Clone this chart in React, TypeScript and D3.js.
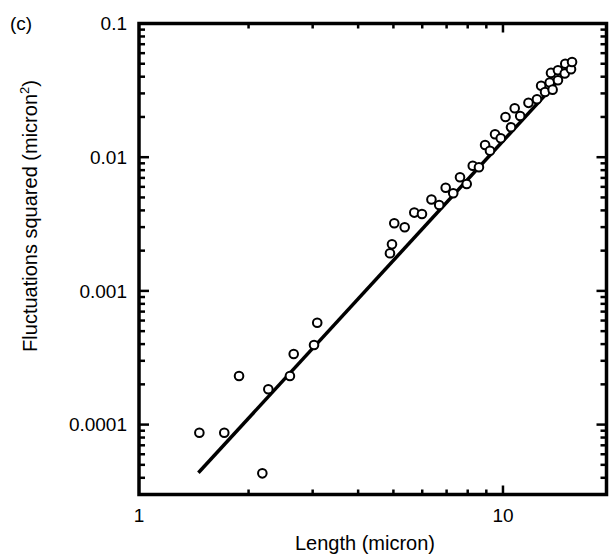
import React from 'react';
import * as d3 from 'd3';

// Data
const lengths = [1.465, 1.715, 1.883, 2.182, 2.266, 2.598, 2.661, 3.026, 3.088, 4.892, 4.955, 5.027, 5.37, 5.706, 5.99, 6.36, 6.68, 6.96, 7.3, 7.62, 7.95, 8.26, 8.59, 8.93, 9.21, 9.51, 9.86, 10.16, 10.52, 10.77, 11.15, 11.75, 12.4, 12.73, 13.05, 13.44, 13.55, 13.69, 14.16, 14.16, 14.78, 14.83, 15.38, 15.48];
const fluctuations = [8.7e-5, 8.7e-5, 2.31e-4, 4.32e-5, 1.84e-4, 2.31e-4, 3.37e-4, 3.94e-4, 5.78e-4, 1.91e-3, 2.23e-3, 3.21e-3, 2.99e-3, 3.85e-3, 3.76e-3, 4.83e-3, 4.39e-3, 5.91e-3, 5.37e-3, 7.08e-3, 6.31e-3, 8.64e-3, 8.41e-3, 0.01234, 0.01118, 0.01483, 0.01384, 0.02, 0.01674, 0.02323, 0.02033, 0.0255, 0.02715, 0.0342, 0.03074, 0.0362, 0.0427, 0.032, 0.0376, 0.0447, 0.0423, 0.05003, 0.04544, 0.0515];
const fitLength = [1.456, 14.35];
const fitValue = [4.36e-5, 0.0385];
const xTickValues = [1, 10];
const xTickLabels = ['1', '10'];
const yTickValues = [0.1, 0.01, 0.001, 0.0001];
const yTickLabels = ['0.1', '0.01', '0.001', '0.0001'];
const xDomain = [1, 19.25];
const yDomain = [3e-5, 0.1];

const W = 609;
const H = 556;
const left = 139;
const right = 606.5;
const top = 23.5;
const bottom = 494.5;
const FONT = '"Liberation Sans", Arial, Helvetica, sans-serif';

export default function App() {
  const x = d3.scaleLog().domain(xDomain).range([left, right]);
  const y = d3.scaleLog().domain(yDomain).range([bottom, top]);
  const isMajor = (v: number) => Math.abs(Math.log10(v) - Math.round(Math.log10(v))) < 1e-6;
  const xt = x.ticks().filter((v) => x(v) > left + 1 && x(v) < right - 1);
  const yt = y.ticks().filter((v) => y(v) < bottom - 1 && y(v) > top + 1);
  const line = d3
    .line<number>()
    .x((_, i) => x(fitLength[i]))
    .y((d) => y(d));

  return (
    <svg width={W} height={H} style={{ position: 'absolute', left: 0, top: 0, background: '#fff' }}>
      <rect x={0} y={0} width={W} height={H} fill="#fff" />
      {/* ticks */}
      {xt.map((v, i) => {
        const len = isMajor(v) ? 9 : 5;
        return (
          <g key={'xt' + i}>
            <line x1={x(v)} x2={x(v)} y1={bottom} y2={bottom - len} stroke="#000" strokeWidth={2.5} />
            <line x1={x(v)} x2={x(v)} y1={top} y2={top + len} stroke="#000" strokeWidth={2.5} />
          </g>
        );
      })}
      {yt.map((v, i) => {
        const len = isMajor(v) ? 10 : 6;
        return (
          <g key={'yt' + i}>
            <line x1={left} x2={left + len} y1={y(v)} y2={y(v)} stroke="#000" strokeWidth={2.5} />
            <line x1={right} x2={right - len} y1={y(v)} y2={y(v)} stroke="#000" strokeWidth={2.5} />
          </g>
        );
      })}
      {/* frame */}
      <rect x={left} y={top} width={right - left} height={bottom - top} fill="none" stroke="#000" strokeWidth={3.5} />
      {/* tick labels */}
      {xTickValues.map((v, i) => (
        <text key={'xl' + i} x={x(v)} y={522} textAnchor="middle" fontFamily={FONT} fontSize={19}>
          {xTickLabels[i]}
        </text>
      ))}
      {yTickValues.map((v, i) => (
        <text key={'yl' + i} x={127} y={y(v)} dy="0.35em" textAnchor="end" fontFamily={FONT} fontSize={19}>
          {yTickLabels[i]}
        </text>
      ))}
      {/* fit line */}
      <path d={line(fitValue) || ''} fill="none" stroke="#000" strokeWidth={3.5} />
      {/* points */}
      {lengths.map((l, i) => (
        <circle key={'p' + i} cx={x(l)} cy={y(fluctuations[i])} r={4.3} fill="#fff" stroke="#000" strokeWidth={2} />
      ))}
      {/* titles */}
      <text x={365} y={550} textAnchor="middle" fontFamily={FONT} fontSize={20}>
        Length (micron)
      </text>
      <text transform="translate(37,216) rotate(-90)" textAnchor="middle" fontFamily={FONT} fontSize={20}>
        Fluctuations squared (micron<tspan dy={-8} fontSize={13}>2</tspan>
        <tspan dy={8}>)</tspan>
      </text>
      <text x={10} y={30} fontFamily={FONT} fontSize={19}>
        (c)
      </text>
    </svg>
  );
}
